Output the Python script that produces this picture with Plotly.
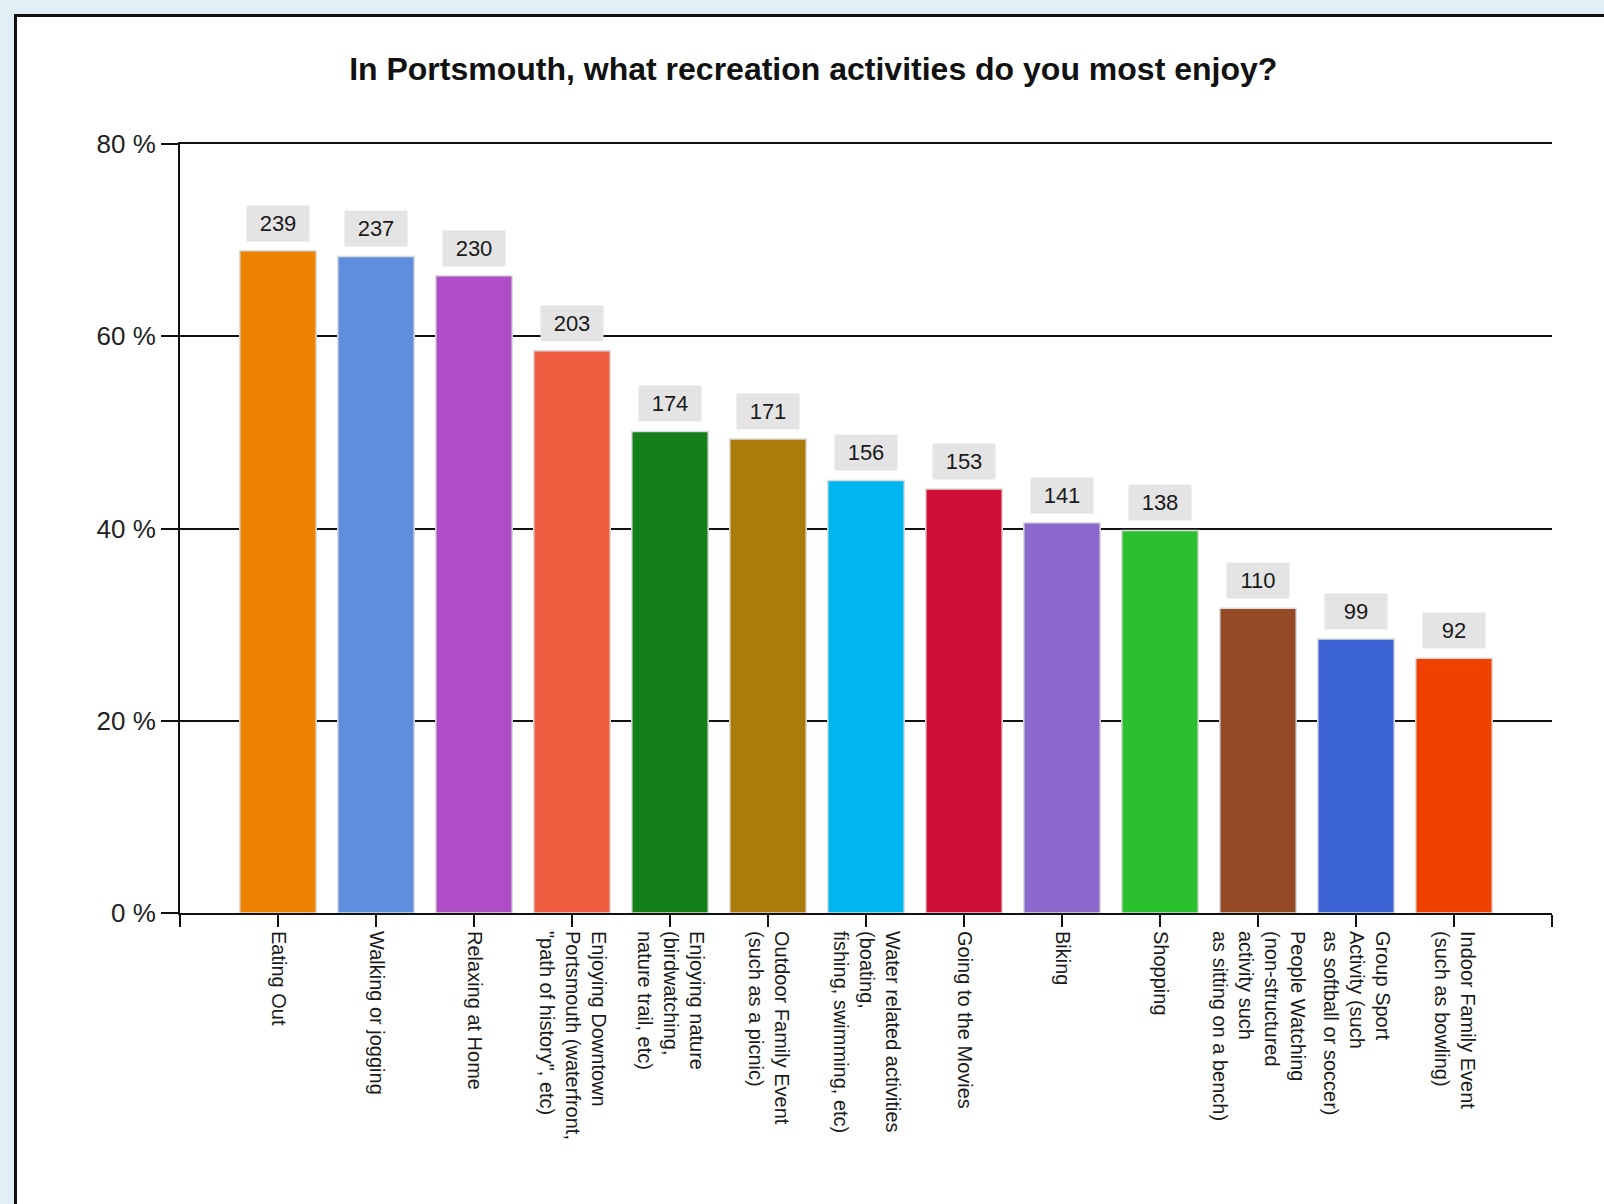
import plotly.graph_objects as go

categories = [
    "Eating Out",
    "Walking or jogging",
    "Relaxing at Home",
    "Enjoying Downtown<br>Portsmouth (waterfront,<br>\"path of history\", etc)",
    "Enjoying nature<br>(birdwatching,<br>nature trail, etc)",
    "Outdoor Family Event<br>(such as a picnic)",
    "Water related activities<br>(boating,<br>fishing, swimming, etc)",
    "Going to the Movies",
    "Biking",
    "Shopping",
    "People Watching<br>(non-structured<br>activity such<br>as sitting on a bench)",
    "Group Sport<br>Activity (such<br>as softball or soccer)",
    "Indoor Family Event<br>(such as bowling)",
]
counts = [239, 237, 230, 203, 174, 171, 156, 153, 141, 138, 110, 99, 92]
percents = [68.9, 68.3, 66.3, 58.5, 50.1, 49.3, 45.0, 44.1, 40.6, 39.8, 31.7, 28.5, 26.5]
colors = ["#ED8300", "#5F8EDE", "#AE4DC5", "#F05C40", "#15801A", "#AC7C0A",
          "#00B6EE", "#CF0E35", "#8A68CC", "#2BC02E", "#954A26", "#3C63D3", "#F04100"]
y_ticks = [0, 20, 40, 60, 80]
y_tick_labels = ["0 %", "20 %", "40 %", "60 %", "80 %"]

idx = list(range(len(categories)))

fig = go.Figure()
fig.add_trace(go.Bar(
    x=idx, y=percents, width=0.78,
    marker=dict(color=colors, line=dict(color="#dcdcdc", width=1.5)),
    hoverinfo="skip", showlegend=False,
))

for i, (p, c) in enumerate(zip(percents, counts)):
    fig.add_annotation(
        x=i, y=p, xref="x", yref="y", text=str(c), showarrow=False,
        yanchor="bottom", yshift=9, bgcolor="#e4e4e4",
        width=58, height=31, borderpad=2,
        font=dict(family="Liberation Sans, Arial", size=22, color="#1a1a1a"),
    )

fig.add_shape(type="rect", xref="paper", yref="paper",
              x0=-0.1199, x1=1.2, y0=-0.6, y1=1.1671,
              line=dict(color="#111111", width=3), fillcolor="white", layer="below")

fig.update_layout(
    width=1604, height=1204,
    margin=dict(l=180, r=52, t=144, b=291),
    paper_bgcolor="#e1f0f4", plot_bgcolor="white",
    title=dict(text="<b>In Portsmouth, what recreation activities do you most enjoy?</b>",
               x=0.507, xref="container", xanchor="center",
               y=1 - 69 / 1204, yref="container", yanchor="middle",
               font=dict(family="Liberation Sans, Arial", size=32, color="#111111")),
)

fig.update_xaxes(
    range=[-1, len(categories)], tickmode="array",
    tickvals=list(range(-1, len(categories) + 1)),
    ticktext=[""] + categories + [""],
    tickangle=90, showgrid=False, zeroline=False,
    showline=True, mirror=True, linecolor="#111111", linewidth=2,
    ticks="outside", ticklen=12, tickwidth=2, tickcolor="#111111",
    tickfont=dict(family="Liberation Sans, Arial", size=20, color="#1a1a1a"),
)
fig.update_yaxes(
    range=[0, 80], tickmode="array", tickvals=y_ticks, ticktext=y_tick_labels,
    showgrid=True, gridcolor="#111111", gridwidth=2, zeroline=False,
    showline=True, linecolor="#111111", linewidth=2,
    ticks="outside", ticklen=17, tickwidth=2, tickcolor="#111111",
    tickfont=dict(family="Liberation Sans, Arial", size=26, color="#222222"),
)

fig.write_html("out.html", config={"displayModeBar": False},
               post_script="document.body.style.margin='0';")
